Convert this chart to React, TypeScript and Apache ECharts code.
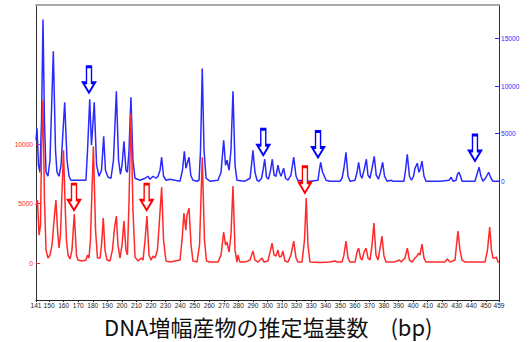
import React, { useEffect, useRef } from "react";
import * as echarts from "echarts";

// x tick labels (bp)
const xTicks = [141, 150, 160, 170, 180, 190, 200, 210, 220, 230, 240, 250, 260, 270, 280, 290, 300, 310, 320, 330, 340, 350, 360, 370, 380, 390, 400, 410, 420, 430, 440, 450, 459];
const redTicks = [0, 5000, 10000];
const blueTicks = [0, 5000, 10000, 15000];

// blue trace [bp, signal]
const blueTrace = [
  [141.0, 4300], [141.7, 5560], [142.7, 1680], [143.7, 940], [144.8, 6400], [145.8, 16990], [146.8, 6400], [147.9, 940], [149.2, 520], [150.6, 2200],
  [152.9, 13640], [154.4, 3250], [155.4, 940], [156.8, 520], [158.2, 1680], [160.7, 8290], [162.3, 2200], [163.7, 520], [165.0, 100], [175.3, 100],
  [176.4, 3250], [177.9, 8600], [179.1, 3780], [179.8, 5350], [181.0, 8290], [182.6, 1680], [184.3, 520], [186.0, 1150], [187.5, 4720], [188.7, 1150],
  [190.5, 420], [192.5, 310], [194.2, 2200], [196.2, 9440], [197.7, 2200], [199.0, 730], [200.1, 1680], [201.4, 4200], [202.8, 1150], [203.8, 940],
  [204.9, 3250], [206.2, 8810], [207.6, 2200], [209.0, 310], [212.4, 100], [215.9, 310], [217.9, 520], [219.3, 210], [221.4, 520], [223.4, 310],
  [224.8, 520], [226.2, 1150], [227.3, 2520], [228.6, 520], [230.3, 100], [233.1, 210], [236.5, 100], [239.9, 0], [241.6, 1150], [242.9, 3150],
  [244.0, 1360], [244.9, 1890], [246.1, 2520], [247.3, 630], [248.8, 100], [251.6, 0], [253.0, 100], [254.0, 3250], [255.2, 11850], [256.4, 3250],
  [257.8, 310], [260.5, 0], [266.0, 100], [268.1, 940], [269.9, 4300], [271.2, 1680], [272.2, 2200], [273.6, 1150], [274.9, 3250], [276.3, 9440],
  [277.7, 1680], [279.0, 100], [284.5, 0], [288.0, 310], [289.0, 1680], [290.0, 3250], [291.4, 940], [292.8, 100], [294.2, 0], [295.9, 310],
  [296.9, 1150], [298.1, 2310], [299.3, 420], [300.7, 210], [302.1, 1150], [303.3, 2310], [304.5, 630], [305.8, 520], [307.2, 1680], [308.2, 940],
  [309.3, 520], [311.1, 1360], [312.4, 310], [314.1, 100], [316.1, 630], [318.0, 2520], [319.6, 520], [320.9, 100], [329.2, 0], [334.7, 100],
  [335.4, 940], [336.5, 1990], [337.8, 940], [338.8, 630], [340.2, 100], [342.9, 0], [349.8, 0], [351.2, 310], [352.5, 1360], [353.9, 3040],
  [355.3, 520], [356.7, 0], [360.1, 100], [361.5, 940], [362.6, 1990], [363.9, 630], [364.9, 310], [366.3, 1150], [367.9, 2310], [369.0, 630],
  [370.4, 310], [371.8, 1360], [373.3, 2620], [374.7, 630], [376.2, 210], [377.6, 940], [379.1, 1990], [380.4, 520], [382.1, 0], [384.8, 100],
  [386.2, 0], [393.7, 0], [394.8, 1150], [396.0, 2830], [397.5, 520], [398.9, 100], [400.3, 520], [401.3, 1360], [402.9, 1890], [404.0, 940],
  [404.9, 1260], [406.1, 2100], [407.5, 520], [408.9, 0], [418.5, 0], [424.7, 100], [426.2, 420], [427.4, 0], [429.5, 100], [430.5, 730],
  [431.5, 940], [432.6, 520], [433.6, 0], [442.5, 0], [443.9, 730], [445.3, 1470], [446.6, 520], [448.0, 0], [449.7, 310], [451.9, 940],
  [453.5, 310], [454.9, 0], [459.0, 0],
];

// red trace [bp, signal]
const redTrace = [
  [141.0, 4870], [142.0, 5290], [143.1, 2350], [144.1, 3190], [144.8, 9490], [145.8, 13690], [146.8, 5290], [147.9, 1090], [149.2, 420], [150.6, 670],
  [152.0, 1510], [153.7, 4030], [154.7, 5290], [155.8, 2770], [156.8, 1260], [157.8, 2350], [158.9, 6130], [159.9, 9490], [160.9, 5290], [161.9, 1930],
  [163.0, 670], [164.4, 340], [165.7, 1090], [167.3, 4120], [168.8, 670], [169.8, 250], [172.6, 170], [175.3, 250], [176.4, 670], [177.4, 420],
  [178.4, 1930], [180.4, 9830], [181.9, 2770], [183.2, 420], [185.0, 420], [186.0, 1510], [187.2, 3780], [188.4, 1090], [189.8, 250], [191.8, 170],
  [193.5, 1090], [194.9, 2940], [196.2, 3950], [197.3, 1510], [198.7, 420], [200.1, 1510], [201.4, 3530], [202.8, 1090], [203.8, 670], [204.9, 5290],
  [206.2, 12600], [207.6, 4450], [209.0, 500], [211.1, 170], [213.1, 420], [214.5, 250], [215.9, 1930], [217.2, 3950], [218.6, 670], [220.0, 250],
  [221.4, 590], [222.7, 420], [224.4, 1090], [225.8, 3610], [227.3, 6380], [228.6, 1930], [230.3, 170], [233.1, 80], [236.5, 170], [239.9, 250],
  [241.3, 1930], [242.6, 4200], [243.9, 2770], [244.7, 4030], [246.1, 4620], [247.5, 1510], [248.8, 170], [251.6, 80], [253.3, 1510], [255.2, 8900],
  [256.7, 1930], [258.1, 170], [260.5, 80], [266.0, 80], [268.1, 670], [269.9, 2600], [271.2, 1510], [272.2, 1760], [273.6, 920], [274.9, 2350],
  [276.3, 6470], [277.7, 1090], [279.0, 80], [279.7, 670], [281.1, 80], [284.5, 80], [288.0, 250], [290.0, 1010], [291.4, 250], [293.5, 80],
  [296.2, 420], [297.6, 80], [300.3, 170], [302.1, 1090], [303.1, 1680], [304.5, 670], [305.8, 590], [307.2, 1090], [308.2, 500], [309.6, 590],
  [310.6, 1010], [312.0, 170], [314.1, 80], [316.1, 670], [318.0, 1850], [319.6, 420], [320.9, 80], [323.7, 80], [325.4, 1930], [326.6, 5460],
  [327.8, 1510], [329.2, 80], [336.1, 50], [342.9, 80], [346.4, 170], [348.0, 80], [351.2, 80], [352.5, 670], [353.9, 1850], [355.3, 420],
  [356.7, 80], [360.1, 80], [361.5, 920], [362.6, 1260], [363.9, 420], [364.9, 250], [366.3, 920], [367.7, 1260], [369.0, 420], [370.4, 250],
  [371.8, 1510], [373.1, 3360], [374.5, 670], [375.9, 250], [377.3, 1260], [378.6, 2270], [380.0, 590], [381.4, 80], [386.9, 80], [388.9, 170],
  [390.5, 250], [391.7, 80], [394.4, 420], [396.0, 1260], [397.5, 250], [399.3, 80], [401.3, 420], [402.7, 590], [403.8, 840], [404.7, 670],
  [406.1, 1600], [407.5, 420], [408.9, 80], [418.5, 80], [421.9, 80], [423.5, 340], [425.3, 80], [428.8, 250], [429.8, 1510], [430.8, 2690],
  [432.2, 1090], [433.6, 250], [435.7, 80], [449.4, 80], [451.1, 1090], [452.6, 3020], [453.8, 1090], [454.9, 420], [455.9, 420], [457.2, 500],
  [458.3, 80], [459.0, 80],
];

// arrow tips [bp, signal]
const blueArrows = [[177.4, 9300], [297.1, 2730], [334.7, 2490], [442.5, 2130]];
const redArrows = [[167.1, 4450], [217.0, 4450], [325.7, 5910]];

const TITLE = "DNA増幅産物の推定塩基数　(bp)";
const ARROW = "path://M3.5,0 L8.5,0 L8.5,16 L12,16 L6,26 L0,16 L3.5,16 Z";

const BLUE = "#2a2aff";
const RED = "#ff2a2a";

function arrowMark(points: number[][], color: string) {
  return {
    symbol: ARROW,
    symbolSize: [12, 26],
    symbolOffset: [0, -13],
    itemStyle: { color: "#ffffff", borderColor: color, borderWidth: 2 },
    label: { show: false },
    data: points.map((p) => ({ coord: p })),
  };
}

const plain = (v: number) => String(v);

export default function App() {
  const ref = useRef<HTMLDivElement>(null);
  useEffect(() => {
    document.body.style.margin = "0";
    const chart = echarts.init(ref.current!, null, { renderer: "svg" });
    const tickFont = { fontFamily: "Liberation Sans", fontSize: 6.6 };
    chart.setOption({
      animation: false,
      title: {
        text: TITLE,
        left: 104,
        top: 315,
        padding: 0,
        textStyle: {
          color: "#111",
          fontSize: 22,
          fontWeight: "normal",
          lineHeight: 22,
          fontFamily: "Noto Sans CJK JP",
        },
      },
      grid: { left: 36, right: 32, top: 5, bottom: 42 },
      xAxis: [
        {
          type: "value",
          min: 141,
          max: 459,
          axisLine: { show: true, onZero: false, lineStyle: { color: "#222", width: 1 } },
          axisTick: { show: true, customValues: xTicks, length: 2, lineStyle: { color: "#222" } },
          axisLabel: { customValues: xTicks, color: "#222", margin: 2, formatter: plain, ...tickFont },
          splitLine: { show: false },
        },
        {
          type: "value",
          position: "top",
          min: 141,
          max: 459,
          axisLine: { show: true, onZero: false, lineStyle: { color: "#aaaaaa", width: 2 } },
          axisTick: { show: false },
          axisLabel: { show: false },
          splitLine: { show: false },
        },
      ],
      yAxis: [
        {
          type: "value",
          position: "left",
          min: -3110,
          max: 21710,
          axisLine: { show: true, onZero: false, lineStyle: { color: "#333", width: 1 } },
          axisTick: { show: true, inside: true, length: 4, customValues: redTicks, lineStyle: { color: RED } },
          axisLabel: { customValues: redTicks, color: RED, margin: 3, formatter: plain, ...tickFont },
          splitLine: { show: false },
        },
        {
          type: "value",
          position: "right",
          min: -12480,
          max: 18510,
          axisLine: { show: true, onZero: false, lineStyle: { color: "#333", width: 1 } },
          axisTick: { show: true, inside: true, length: 4, customValues: blueTicks, lineStyle: { color: BLUE } },
          axisLabel: { customValues: blueTicks, color: BLUE, margin: 2, formatter: plain, ...tickFont },
          splitLine: { show: false },
        },
      ],
      series: [
        {
          type: "line",
          xAxisIndex: 0,
          yAxisIndex: 1,
          data: blueTrace,
          symbol: "none",
          lineStyle: { color: BLUE, width: 1.5 },
          itemStyle: { color: BLUE },
          markPoint: arrowMark(blueArrows, "#0000ff"),
          z: 2,
        },
        {
          type: "line",
          xAxisIndex: 0,
          yAxisIndex: 0,
          data: redTrace,
          symbol: "none",
          lineStyle: { color: RED, width: 1.5 },
          itemStyle: { color: RED },
          markPoint: arrowMark(redArrows, "#ff0000"),
          z: 3,
        },
      ],
    });
    return () => chart.dispose();
  }, []);
  return <div ref={ref} style={{ width: 531, height: 342 }} />;
}
